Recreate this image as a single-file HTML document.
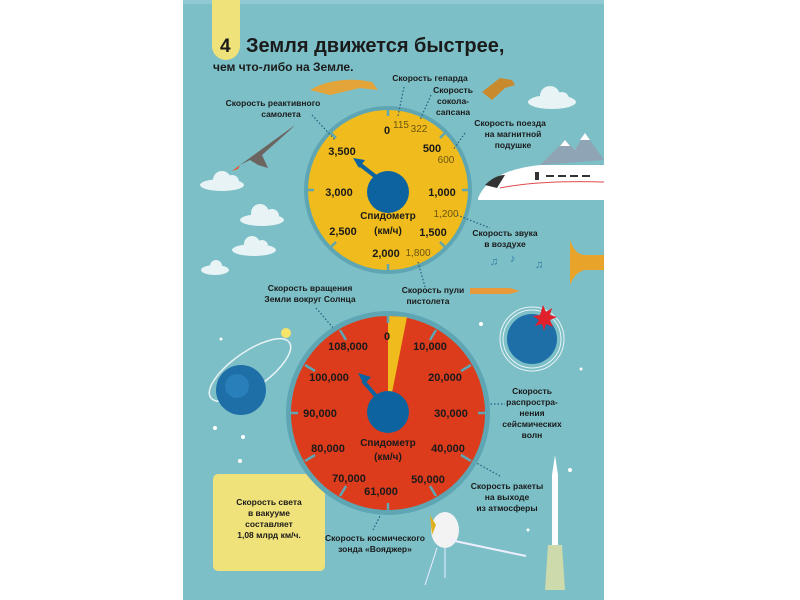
<!DOCTYPE html>
<html><head><meta charset="utf-8"><style>
body{margin:0;background:#fff;}
svg{display:block;font-family:"Liberation Sans",sans-serif;}
</style></head><body>
<svg width="800" height="600" viewBox="0 0 800 600">
<rect x="183" y="0" width="421" height="600" fill="#7cbfc7"/>
<rect x="183" y="0" width="421" height="4" fill="#8fcad2"/>
<path d="M212 0H240V46a14 14 0 0 1-28 0Z" fill="#f0e27a"/>
<text x="220" y="52" font-size="19" font-weight="bold" fill="#1a1a1a">4</text>
<text x="246" y="52" font-size="20" font-weight="bold" fill="#1a1a1a">Земля движется быстрее,</text>
<text x="213" y="71" font-size="12" font-weight="bold" fill="#1a1a1a">чем что-либо на Земле.</text>
<!-- clouds -->
<g fill="#e8f3f5">
<ellipse cx="222" cy="185" rx="22" ry="6"/><circle cx="222" cy="180" r="9"/><circle cx="232" cy="182" r="7"/>
<ellipse cx="262" cy="220" rx="22" ry="6"/><circle cx="260" cy="213" r="9"/><circle cx="272" cy="216" r="7"/>
<ellipse cx="254" cy="250" rx="22" ry="6"/><circle cx="252" cy="244" r="8"/><circle cx="262" cy="246" r="6"/>
<ellipse cx="215" cy="270" rx="14" ry="5"/><circle cx="216" cy="266" r="6"/>
<ellipse cx="552" cy="102" rx="24" ry="7"/><circle cx="550" cy="96" r="10"/><circle cx="562" cy="99" r="7"/>
</g>
<!-- mountains & train -->
<path d="M540 165L565 140 575 150 585 133 604 160Z" fill="#8fa4b5"/>
<path d="M565 140L560 146 570 146ZM585 133L580 140 590 140Z" fill="#fff"/>
<path d="M478 198Q490 170 540 165H604V200H478Z" fill="#fff"/>
<path d="M485 185Q495 175 505 175L497 188Z" fill="#333"/>
<rect x="535" y="172" width="4" height="8" fill="#333"/>
<g fill="#333"><rect x="546" y="175" width="8" height="2"/><rect x="558" y="175" width="8" height="2"/><rect x="570" y="175" width="8" height="2"/><rect x="582" y="175" width="8" height="2"/></g>
<path d="M500 188Q540 180 604 182" stroke="#e04a4a" stroke-width="1" fill="none"/>
<!-- jet -->
<path d="M240 165L295 125 290 130 262 155 268 168 258 165 250 160Z" fill="#6b6460"/>
<path d="M240 165l-8 6 6-2z" fill="#e8552c"/>
<!-- cheetah -->
<path d="M310 90Q330 78 360 80L372 82 378 90 360 88 330 95Z" fill="#e3a43a"/>
<!-- falcon -->
<path d="M482 92L500 78 512 80 515 85 505 88 492 100Z" fill="#c98a2e"/>
<!-- trumpet -->
<path d="M570 240Q575 255 585 255H604V270H585Q575 272 570 285Z" fill="#e8a32a"/>
<g fill="#2f7aa6" font-size="11"><text x="490" y="265">♫</text><text x="510" y="262">♪</text><text x="535" y="268">♫</text></g>
<path d="M470 288h40l10 3-10 3h-40z" fill="#e89a3a"/>
<!-- yellow dial -->
<circle cx="388" cy="190" r="84" fill="#5ea6b3"/>
<circle cx="388" cy="190" r="80" fill="#f0bb1c"/>
<g stroke="#5ea6b3" stroke-width="2.5">
<line x1="388" y1="106" x2="388" y2="116"/><line x1="388" y1="264" x2="388" y2="274"/>
<line x1="304" y1="190" x2="314" y2="190"/><line x1="462" y1="190" x2="472" y2="190"/>
<line x1="329" y1="131" x2="336" y2="138"/><line x1="447" y1="131" x2="440" y2="138"/>
<line x1="329" y1="249" x2="336" y2="242"/><line x1="447" y1="249" x2="440" y2="242"/>
</g>
<circle cx="388" cy="192" r="21" fill="#0d63a0"/>
<path d="M380 180L358 163" stroke="#0d63a0" stroke-width="4"/>
<path d="M353 158l12 2-6 8z" fill="#0d63a0"/>
<g font-size="11" font-weight="bold" fill="#1a1a1a" text-anchor="middle">
<text x="387" y="134">0</text><text x="432" y="152">500</text><text x="442" y="196">1,000</text><text x="433" y="236">1,500</text>
<text x="386" y="257">2,000</text><text x="343" y="235">2,500</text><text x="339" y="196">3,000</text><text x="342" y="155">3,500</text>
<text x="388" y="219" font-size="10">Спидометр</text><text x="388" y="234" font-size="10">(км/ч)</text>
</g>
<g font-size="10" fill="#6b5510" text-anchor="middle">
<text x="401" y="128">115</text><text x="419" y="132">322</text><text x="446" y="163">600</text><text x="446" y="217">1,200</text><text x="418" y="256">1,800</text>
</g>
<g stroke="#1f5f80" stroke-width="1.2" stroke-dasharray="1.5,2" fill="none">
<path d="M404 87L398 116"/><path d="M431 95L420 120"/><path d="M465 133L453 150"/><path d="M457 215L490 228"/><path d="M418 262L425 287"/><path d="M312 115L335 140"/>
<path d="M316 308L335 330"/><path d="M480 404L505 404"/><path d="M462 455L500 476"/><path d="M383 510L373 530"/>
</g>
<!-- light box -->
<rect x="213" y="474" width="112" height="97" rx="5" fill="#f0e27a"/>
<g font-size="8.5" font-weight="bold" fill="#1a1a1a" text-anchor="middle">
<text x="430" y="81">Скорость гепарда</text>
<text x="453" y="93">Скорость</text><text x="453" y="104">сокола-</text><text x="453" y="115">сапсана</text>
<text x="273" y="106">Скорость реактивного</text><text x="281" y="117">самолета</text>
<text x="510" y="126">Скорость поезда</text><text x="513" y="137">на магнитной</text><text x="513" y="148">подушке</text>
<text x="505" y="236">Скорость звука</text><text x="505" y="247">в воздухе</text>
<text x="433" y="293">Скорость пули</text><text x="428" y="304">пистолета</text>
<text x="310" y="291">Скорость вращения</text><text x="310" y="302">Земли вокруг Солнца</text>
<text x="532" y="394">Скорость</text><text x="532" y="405">распростра-</text><text x="532" y="416">нения</text><text x="532" y="427">сейсмических</text><text x="532" y="438">волн</text>
<text x="507" y="489">Скорость ракеты</text><text x="507" y="500">на выходе</text><text x="507" y="511">из атмосферы</text>
<text x="375" y="541">Скорость космического</text><text x="375" y="552">зонда «Вояджер»</text>
<text x="269" y="505">Скорость света</text><text x="269" y="516">в вакууме</text><text x="269" y="527">составляет</text><text x="269" y="538">1,08 млрд км/ч.</text>
</g>
<!-- earths -->
<ellipse cx="250" cy="370" rx="48" ry="18" transform="rotate(-35 250 370)" fill="none" stroke="#e8f3f5" stroke-width="1.5"/>
<circle cx="286" cy="333" r="5" fill="#f5e36a"/>
<circle cx="241" cy="390" r="25" fill="#1e6ea8"/><circle cx="237" cy="386" r="12" fill="#2e86c0" opacity=".7"/>
<circle cx="532" cy="339" r="32" fill="none" stroke="#e8f3f5" stroke-width="1"/>
<circle cx="532" cy="339" r="29" fill="none" stroke="#e8f3f5" stroke-width="1"/>
<circle cx="532" cy="339" r="25" fill="#1e6ea8"/>
<path d="M543 305l3 7 6-4-2 7 7 2-7 3 3 7-7-3-2 7-2-7-7 2 4-6-6-4 7-1z" fill="#e0202a"/>
<!-- red dial -->
<circle cx="388" cy="413" r="102" fill="#5ea6b3"/>
<circle cx="388" cy="413" r="97" fill="#dc3b1c"/>
<path d="M388 413L388 316 407 317Z" fill="#f0bb1c"/>
<g stroke="#5ea6b3" stroke-width="2.5">
<line x1="388" y1="311" x2="388" y2="323"/><line x1="388" y1="503" x2="388" y2="515"/>
<line x1="286" y1="413" x2="298" y2="413"/><line x1="478" y1="413" x2="490" y2="413"/>
<line x1="340" y1="330" x2="346" y2="340"/><line x1="436" y1="330" x2="430" y2="340"/>
<line x1="305" y1="365" x2="315" y2="371"/><line x1="471" y1="365" x2="461" y2="371"/>
<line x1="305" y1="461" x2="315" y2="455"/><line x1="471" y1="461" x2="461" y2="455"/>
<line x1="340" y1="496" x2="346" y2="486"/><line x1="436" y1="496" x2="430" y2="486"/>
</g>
<circle cx="388" cy="412" r="21" fill="#0d63a0"/>
<path d="M376 396L363 381" stroke="#0d63a0" stroke-width="4"/>
<path d="M358 373l13 4-7 8z" fill="#0d63a0"/>
<g font-size="11" font-weight="bold" fill="#1a1a1a" text-anchor="middle">
<text x="387" y="340">0</text><text x="430" y="350">10,000</text><text x="445" y="381">20,000</text><text x="451" y="417">30,000</text>
<text x="448" y="452">40,000</text><text x="428" y="483">50,000</text><text x="381" y="495">61,000</text><text x="349" y="482">70,000</text>
<text x="328" y="452">80,000</text><text x="320" y="417">90,000</text><text x="329" y="381">100,000</text><text x="348" y="350">108,000</text>
<text x="388" y="446" font-size="10">Спидометр</text><text x="388" y="460" font-size="10">(км/ч)</text>
</g>
<!-- rocket -->
<path d="M555 455L558 475V545H552V475Z" fill="#fff"/>
<path d="M548 545L562 545 565 590 545 590Z" fill="#f0e6a0" opacity=".7"/>
<!-- probe -->
<ellipse cx="445" cy="530" rx="14" ry="18" fill="#f3f3f3"/>
<path d="M430 515l6 10-4 10z" fill="#e0b020"/>
<path d="M450 540L526 556" stroke="#eef" stroke-width="2"/>
<path d="M437 548L425 585M445 548L445 578" stroke="#eef" stroke-width="1"/>
<g fill="#fff"><circle cx="221" cy="339" r="1.5"/><circle cx="215" cy="428" r="2"/><circle cx="243" cy="437" r="2"/><circle cx="240" cy="461" r="2"/><circle cx="481" cy="324" r="2"/><circle cx="581" cy="369" r="1.5"/><circle cx="570" cy="470" r="2"/><circle cx="528" cy="530" r="1.5"/></g>
</svg>
</body></html>
